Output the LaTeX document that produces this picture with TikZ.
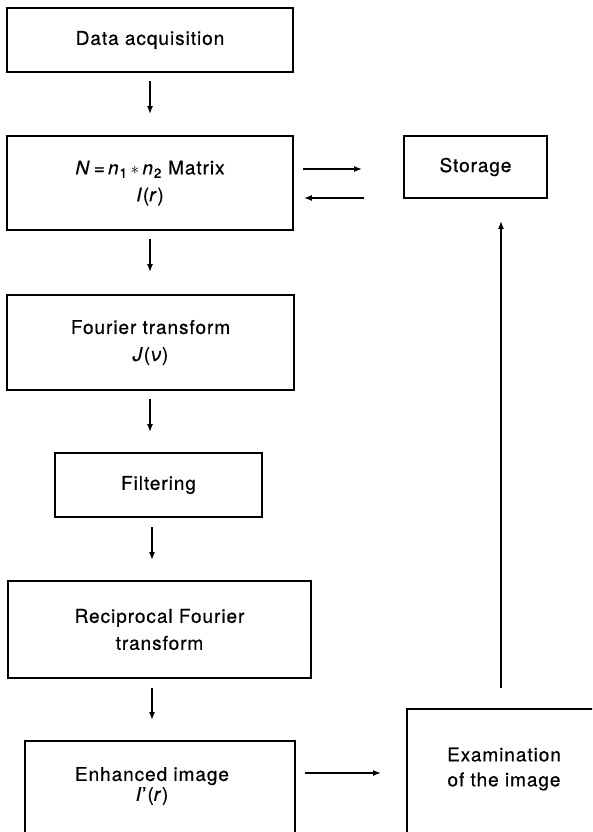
\documentclass[tikz,border=0pt]{standalone}
\usepackage{fontspec}
\setmainfont{TeX Gyre Heros}[LetterSpace=5,FakeBold=0.6]
\usetikzlibrary{arrows.meta,calc}

\begin{document}
\begin{tikzpicture}[x=1pt,y=-1pt,
  box/.style={draw,line width=1.8pt,rectangle,inner sep=0pt,align=center,
    font=\fontsize{19}{27}\selectfont},
  txt/.style={inner sep=0pt,align=center,font=\fontsize{19}{25}\selectfont},
  flow/.style={line width=1.5pt,-{Latex[length=8pt,width=6pt]}}
]
\useasboundingbox (0,0) rectangle (592,832);
\clip (0,0) rectangle (592,832);

% processing chain
\node[box,minimum width=286,minimum height=64] (acq) at (150,40) {Data acquisition};
\node[box,minimum width=286,minimum height=94] (mat) at (150,183)
  {\textit{N}\,=\,\textit{n}\textsubscript{1}\,$\ast$\,\textit{n}\textsubscript{2} Matrix\\\textit{I}(\textit{r})};
\node[box,minimum width=143,minimum height=62] (sto) at (475.5,167) {Storage};
\node[box,minimum width=287,minimum height=95] (ft) at (150.5,342.5)
  {Fourier transform\\\textit{J}(\textit{ν})};
\node[box,minimum width=207,minimum height=64] (filt) at (158.5,485) {Filtering};
\node[box,minimum width=303,minimum height=97] (rft) at (159.5,629.5)
  {Reciprocal Fourier\\transform};
\node[box,minimum width=270,minimum height=140,anchor=north] (enh) at (160,740) {};
\node[txt,font=\fontsize{19}{20}\selectfont] (enht) at (152,786)
  {Enhanced image\\\textit{I}'(\textit{r})};
\node[box,minimum width=250,minimum height=200,anchor=north west] (exa) at (406,708) {};
\node[txt] (exat) at (504,769) {Examination\\of the image};

% downward flow
\draw[flow,shorten <=8pt,shorten >=21pt] (acq.south) -- (mat.north);
\draw[flow,shorten <=8pt,shorten >=22pt] (mat.south) -- (mat.south |- ft.north);
\coordinate (f3) at ([xshift=-0.5pt]ft.south);
\draw[flow,shorten <=8pt,shorten >=20pt] (f3) -- (f3 |- filt.north);
\coordinate (f4) at ([xshift=-6.5pt]filt.south);
\draw[flow,shorten <=9pt,shorten >=20pt] (f4) -- (f4 |- rft.north);
\coordinate (f5) at ([xshift=-7.5pt]rft.south);
\draw[flow,shorten <=9pt,shorten >=20pt] (f5) -- (f5 |- enh.north);

% exchange with storage
\coordinate (m1) at ([yshift=14pt]mat.east);
\draw[flow,shorten <=9pt,shorten >=41pt] (m1) -- (m1 -| sto.west);
\coordinate (m2) at ([yshift=-15pt]mat.east);
\draw[flow,shorten <=39pt,shorten >=10pt] (m2 -| sto.west) -- (m2);

% examination and return to storage
\coordinate (e1) at ([yshift=-33pt]enh.north east);
\draw[flow,shorten <=9pt,shorten >=25pt] (e1) -- (e1 -| exa.west);
\coordinate (v1) at ([xshift=95pt]exa.north west);
\draw[flow,shorten <=20pt,shorten >=22pt] (v1) -- (v1 |- sto.south);
\end{tikzpicture}
\end{document}
